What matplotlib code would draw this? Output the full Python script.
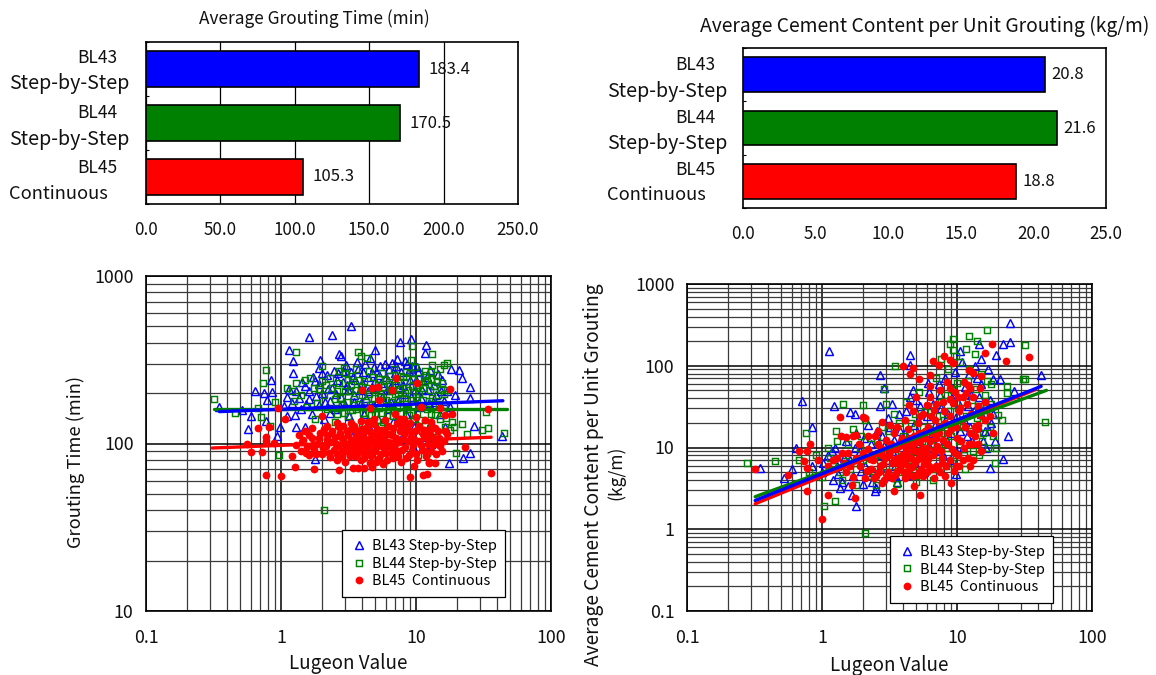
import matplotlib
matplotlib.use('Agg')
import matplotlib.pyplot as plt
from matplotlib.ticker import LogLocator, NullFormatter

plt.rcParams['font.family'] = ['Noto Sans CJK JP', 'DejaVu Sans']

W, H = 1156, 675

methods = ['BL43', 'BL44', 'BL45']
method_names = ['Step-by-Step', 'Step-by-Step', 'Continuous']
avg_time = [183.4, 170.5, 105.3]
avg_cement = [20.8, 21.6, 18.8]
legend_labels = ['BL43 Step-by-Step', 'BL44 Step-by-Step', 'BL45  Continuous']

# (Lugeon, grouting time)
bl43_time = [(3.3,500),(1.6,433),(2.4,442),(1.14,361),(1.22,310),(1.22,264),(1.95,316),(1.9,283),(2.68,344),(2.8,332),
    (5,361),(7.6,403),(9.2,420),(11.9,385),(11.7,345),(7.2,320),(6.6,304),(8.3,312),(9,277),(10.2,287),(18.1,278),(21,273),
    (22,245),(25,216),(25,188),(19.5,194),(16,180),(.85,240),(.64,206),(.75,200),(.86,203),(.79,181),(.35,165),(.51,158),
    (.6,146),(.77,136),(.57,122),(.98,126),(1.29,125),(.94,111),(27,127),(43,111),(25,88),(22.4,82),(17.5,77),(1.78,81),
    (1.1,190),(1.2,175),(1.3,205),(1.4,160),(1.5,220),(1.6,185),(1.7,150),(1.8,235),(1.9,170),(2,200),(2.1,140),(2.2,255),
    (2.3,180),(2.4,215),(2.5,160),(2.6,240),(2.7,130),(2.8,190),(2.9,270),(3,170),(3.1,225),(3.2,145),(3.4,250),(3.5,195),
    (3.6,120),(3.7,280),(3.9,175),(4,230),(4.1,150),(4.2,300),(4.4,205),(4.5,125),(4.7,265),(4.8,170),(5,235),(5.2,140),
    (5.4,290),(5.6,190),(5.8,115),(6,250),(6.2,160),(6.4,215),(6.7,135),(7,265),(7.3,180),(7.6,105),(8,225),(8.4,150),
    (8.8,270),(9.2,190),(9.6,125),(10,240),(10.5,165),(11,210),(11.5,110),(12,250),(12.5,175),(13,135),(13.5,225),(14,195),
    (15,150),(15.5,240),(16.5,125),(17,205),(18,165),(13,100),(9.5,95),(6.3,98),(3.3,105),(2.4,110),(1.5,125),(1.1,145),
    (1.05,168),(1.15,212),(1.28,148),(1.36,186),(1.44,232),(1.52,172),(1.62,205),(1.72,248),(1.82,192),(1.92,228),(2.02,262),
    (2.12,178),(2.22,212),(2.32,152),(2.45,272),(2.55,198),(2.65,262),(2.75,168),(2.88,232),(3.05,295),(3.15,208),(3.28,268),
    (3.45,178),(3.55,238),(3.68,305),(3.85,208),(4.05,268),(4.25,188),(4.38,248),(4.55,322),(4.72,218),(4.92,288),(5.1,178),
    (5.3,258),(5.55,230),(5.85,298),(6.05,208),(6.3,278),(6.55,178),(6.85,238),(7.15,292),(7.45,218),(7.8,268),(8.15,198),
    (8.6,300),(9,238),(9.4,292),(9.85,208),(10.3,268),(10.8,188),(11.3,238),(12.2,208),(12.8,275),(13.8,178),(14.5,260),(15.2,205)]

bl44_time = [(.32,184),(.78,273),(.73,230),(1.3,350),(3.7,350),(9.4,383),(13.2,342),(17,301),(2,291),(2.95,284),(45,116),
    (34,123),(31,120),(33,155),(24,114),(22,131),(19.8,88),(2.09,40),(.97,85),(.46,152),(.67,163),(.71,144),(.83,127),(.9,177),
    (10.3,85),(3.9,335),(4.3,325),(9.2,315),(13.1,295),(13,268),(16,295),(15,280),(11.8,255),(3.6,280),(3,262),(2.7,270),
    (1.1,215),(1.2,205),(1.25,180),(1.3,230),(1.4,195),(1.5,240),(1.55,165),(1.65,245),(1.75,215),(1.85,175),(2,235),(2.1,195),
    (2.2,160),(2.3,245),(2.4,215),(2.5,185),(2.6,150),(2.7,230),(2.85,170),(3,205),(3.15,145),(3.3,225),(3.45,185),(3.6,160),
    (3.8,240),(4,195),(4.2,140),(4.4,215),(4.6,170),(4.8,250),(5,150),(5.2,225),(5.5,190),(5.7,135),(6,240),(6.2,170),(6.5,205),
    (6.8,145),(7.1,225),(7.4,185),(7.7,130),(8,250),(8.3,200),(8.6,160),(9,265),(9.3,220),(9.6,140),(10,190),(10.4,245),(10.8,165),
    (11.2,215),(11.6,130),(12,240),(12.5,180),(13,150),(13.5,220),(14,255),(14.5,195),(15,140),(15.5,230),(16,170),(16.5,125),
    (17,210),(17.5,155),(18,120),(18.5,135),(19,125),(14,110),(11,118),(8,122),(5.5,128),(4,132),(2.5,135),(1.8,140),(12,88),(1.6,92),
    (2.55,162),(2.72,188),(2.92,152),(3.08,178),(3.22,205),(3.38,158),(3.52,208),(3.72,172),(3.92,218),(4.08,152),(4.28,178),(4.48,198),
    (4.68,148),(4.88,188),(5.08,212),(5.28,162),(5.42,198),(5.62,152),(5.82,218),(5.98,182),(6.15,148),(6.35,228),(6.58,178),(6.72,158),
    (6.95,198),(7.25,162),(7.52,212),(7.72,152),(7.92,188),(8.12,232),(8.42,172),(8.72,208),(8.92,148),(9.15,182),(9.45,242),(9.72,168),
    (9.92,218),(10.15,152),(10.55,198),(10.92,138),(11.35,182),(11.72,232),(12.15,160),(12.65,208),(13.25,188),(13.75,148),(14.25,232),
    (14.75,172),(15.25,208),(15.75,152),(16.25,198),(16.75,142),(3.15,240),(4.5,272),(5.6,262),(6.9,278),(7.6,252),(9.8,288),(11.6,272),
    (1.9,212),(2.15,225),(2.6,205),(3.35,252),(4.15,236),(5.35,244),(6.4,252),(8.5,268),(10.6,222),(12.9,242)]

bl45_time = [(34,161),(36,67),(23,95),(17,114),(18,212),(18.5,149),(16.5,147),(15,162),(10.2,230),(7.1,247),(6.6,208),(5.2,218),
    (4.7,214),(4,208),(5.3,181),(4.6,162),(2,146),(1.07,140),(.95,163),(.82,125),(.68,123),(.78,110),(.78,104),(.89,101),(.56,99),
    (.6,89),(.72,89),(1.2,84),(1.27,72),(.78,65),(1,64),(1.76,70),(2.7,69),(3.4,71),(9,63),(11.2,65),(12,66),(13.8,76),(12.5,76),
    (9.6,73),(4.7,72),(4.1,71),(3.7,71),(7,151),(8.2,141),(10,144),(13,135),(11.4,120),(10.9,165),(8.5,125),(1.3,98),(1.35,112),
    (1.4,90),(1.45,105),(1.5,118),(1.55,95),(1.6,85),(1.7,108),(1.75,92),(1.85,100),(1.95,115),(2,87),(2.1,122),(2.15,96),(2.2,105),
    (2.3,83),(2.4,118),(2.45,92),(2.55,100),(2.6,80),(2.7,125),(2.8,110),(2.85,90),(2.95,100),(3,78),(3.1,118),(3.2,95),(3.3,105),
    (3.4,85),(3.5,128),(3.6,112),(3.7,92),(3.8,100),(3.9,80),(4,122),(4.1,106),(4.2,88),(4.35,96),(4.5,118),(4.6,76),(4.7,102),
    (4.9,130),(5,90),(5.1,110),(5.3,82),(5.4,98),(5.6,120),(5.7,75),(5.9,104),(6,88),(6.2,128),(6.4,96),(6.6,112),(6.8,82),(7,100),
    (7.2,132),(7.4,90),(7.6,118),(7.8,78),(8,106),(8.3,95),(8.6,125),(8.9,85),(9.2,110),(9.5,98),(9.9,118),(10.2,80),(10.6,104),(11,92),
    (11.4,112),(11.8,84),(12.2,100),(12.6,122),(13,90),(13.5,108),(14,86),(14.5,118),(15,96),(16,104),(3.3,133),(2.6,132),(4.4,135),(7.6,140),
    (1.42,102),(1.52,88),(1.62,112),(1.72,98),(1.82,86),(1.92,108),(2.05,94),(2.18,112),(2.25,88),(2.35,102),(2.5,110),(2.58,86),(2.65,96),
    (2.75,116),(2.82,84),(2.9,106),(3.02,90),(3.08,100),(3.15,112),(3.22,84),(3.28,122),(3.35,92),(3.45,100),(3.55,84),(3.62,120),(3.68,104),
    (3.75,88),(3.82,110),(3.95,94),(4.05,114),(4.15,82),(4.22,100),(4.32,126),(4.4,90),(4.55,108),(4.65,84),(4.75,116),(4.85,94),(4.95,104),
    (5.05,78),(5.15,122),(5.25,96),(5.35,112),(5.5,86),(5.65,106),(5.8,94),(5.95,116),(6.1,80),(6.25,102),(6.35,114),(6.5,88),(6.7,124),
    (6.9,94),(7.1,108),(7.3,84),(7.5,102),(7.7,126),(7.9,92),(8.1,114),(8.45,82),(8.75,104),(9,118),(9.35,90),(9.7,106),(10,86),(10.4,124),
    (10.8,98),(11.2,114),(11.6,90),(12,108),(12.4,78),(12.8,114),(13.2,98),(13.8,124),(14.2,100),(14.8,108),(15.5,90),(16.5,118),(8,130),
    (9,132),(10.5,128),(11.6,138),(5.9,138),(4.9,140),(3.9,136),(2.9,128),(2.2,128),(1.7,124)]

# (Lugeon, cement content)
bl43_cement = [(24.7,332),(1.12,150),(4.5,136),(4.5,101),(2.7,78),(10.6,150),(14.6,184),(22,184),(24.7,196),(19.5,136),(15,120),(42,78),
    (20.9,68),(18.4,68),(26.6,49),(.71,37),(1.23,32),(1.6,27),(1.76,26),(.84,18),(.64,10),(.6,5.5),(.52,4.2),(.35,5.6),(24,14),(22,7.3),
    (17.6,5.6),(9.9,4.7),(1.8,1.9),(2.47,2.9),(1.66,2.6),(1.37,3.2),(2.7,32),(3.3,34),(2.9,53),(4.7,51),(.85,6),(1,5),(1.1,8),(1.2,4),
    (1.25,10),(1.3,6),(1.4,3.8),(1.5,12),(1.6,7),(1.7,4.5),(1.8,15),(1.9,9),(2,3.6),(2.1,6),(2.2,19),(2.3,11),(2.4,5),(2.5,3.2),(2.6,8),
    (2.8,14),(3,4.5),(3.1,23),(3.3,9),(3.5,6),(3.6,3.8),(3.8,16),(4,11),(4.2,28),(4.4,7),(4.6,4.6),(4.8,19),(5,38),(5.2,12),(5.5,8),
    (5.7,5),(6,24),(6.2,48),(6.5,15),(6.8,9),(7,6),(7.3,60),(7.6,30),(8,20),(8.4,12),(8.8,7),(9.2,40),(9.6,85),(10,25),(10.5,16),(11,10),
    (11.5,55),(12,32),(12.5,18),(13,12),(13.5,100),(14,70),(14.5,42),(15,26),(16,16),(16.5,10),(17,90),(17.5,38),(18,20),(19,12),
    (1.02,6.5),(1.18,9),(1.32,4.8),(1.45,7.5),(1.55,3.4),(1.75,10),(1.95,5.2),(2.05,13),(2.25,7.8),(2.35,3.8),(2.55,16),(2.7,5.8),(2.9,10.5),
    (3.05,7),(3.2,18),(3.4,12.5),(3.55,4.4),(3.7,26),(3.9,8),(4.1,15),(4.3,5.5),(4.5,42),(4.7,10),(4.9,6.5),(5.1,22),(5.35,32),(5.6,14),(5.85,7),
    (6.1,62),(6.3,10),(6.6,34),(6.9,19),(7.2,12),(7.5,44),(7.9,8),(8.2,70),(8.6,26),(9,15),(9.4,54),(9.8,9),(10.2,36),(10.8,110),(11.3,22),
    (11.8,14),(12.3,80),(12.8,44),(13.3,28),(14.2,18),(15,60),(15.5,12),(16.2,32),(17.2,16),(18.5,26)]

bl44_cement = [(2.08,.9),(45,20.6),(32,180),(16.6,275),(8.8,185),(9.3,154),(3.5,100),(31,69),(32,69),(23.4,57),(23.4,47),(21.4,22),(19.4,10),
    (1.25,2.2),(1.03,1.9),(.45,6.8),(.76,15),(1.27,16),(1.42,33.8),(2,33),(3,33.6),(2.9,52.5),(.28,6.5),(.68,7),(.8,5),(.9,8),(1,4.4),
    (1.1,10),(1.2,6),(1.3,12),(1.4,4),(1.5,8),(1.6,5.5),(1.7,17),(1.8,3.5),(1.9,10),(2,7),(2.1,22),(2.2,4.5),(2.3,13),(2.5,3.5),(2.6,8),
    (2.8,18),(3,5),(3.2,11),(3.4,26),(3.6,3.6),(3.8,7),(4,14),(4.2,36),(4.4,5),(4.6,20),(4.8,9),(5,3.8),(5.2,48),(5.5,12),(5.8,28),(6,6.5),
    (6.3,17),(6.6,4),(7,70),(7.3,10),(7.6,36),(8,22),(8.3,6),(8.6,90),(9,14),(9.4,50),(9.8,8),(10.2,30),(10.6,110),(11,18),(11.4,5.5),
    (12,65),(12.5,11),(13,38),(13.5,140),(14,23),(14.5,8),(15,80),(15.5,15),(16,44),(16.5,30),(17,10),(17.5,18),(18,60),(20,25),(19,6.5),
    (1.15,7.5),(1.35,5),(1.55,11),(1.75,6.5),(1.95,14),(2.15,8.5),(2.35,5.2),(2.55,12),(2.7,7),(2.95,9),(3.1,16),(3.3,6),(3.5,8.2),(3.7,20),
    (3.9,5),(4.05,11),(4.25,7.5),(4.5,15),(4.7,6),(4.9,26),(5.1,9),(5.3,4.6),(5.6,18),(5.9,7.5),(6.15,32),(6.45,11),(6.75,5.5),(7.1,24),(7.4,8),
    (7.8,15),(8.1,44),(8.5,10),(8.8,28),(9.2,6.5),(9.6,19),(10,62),(10.4,12),(10.8,36),(11.2,8),(11.7,24),(12.2,90),(12.7,16),(13.2,9),(13.8,52),
    (14.2,32),(15.2,12),(15.8,24),(16.8,66),(17.8,34),(18.5,14),(7.6,120),(9.9,130),(11.6,160),(14,200),(12.3,230),(9.3,210)]

bl45_cement = [(18.3,184),(34,127),(23,113),(16.2,145),(8,132),(6.6,113),(7.3,103),(8.9,116),(9.3,108),(4,100),(4.7,94),(4.5,80),(6.3,78),
    (5.2,69),(12.3,89),(13.2,81),(15,74),(11.3,64),(6.3,56),(7.5,51),(5,42),(6.3,42),(8.9,53),(12.5,53),(14.8,53),(8.9,39),(10.2,42),(13.2,42),
    (16,36),(10.5,30),(4.4,33),(4.7,28),(5.6,26),(6.7,29),(14.4,32),(17.6,24),(16.1,21.6),(14.4,19),(18.6,15),(13.6,14),(12.5,5.9),(9.1,3.7),
    (9.9,6),(5.3,2.6),(3.4,2.9),(4.8,3.4),(1.76,2.4),(1.1,2.6),(.77,2.9),(1,1.35),(.56,4.6),(.77,5.6),(.73,6.8),(.68,9),(.82,10.9),(.77,9),
    (.94,7.1),(1.37,23.4),(2,23.6),(2.1,22.7),(2.77,20.4),(1.38,14),(1.5,13.5),(1.8,14.4),(1.7,13.7),(2.2,14),(2.47,14),(1.87,11),(1.4,8.6),
    (1.11,5.9),(1.2,7.1),(1.66,3.5),(2.77,3.7),(.32,5.5),(1.3,7.5),(1.5,5),(1.7,4.4),(1.9,6),(2,8.5),(2.1,4.2),(2.2,9.5),(2.3,5.5),(2.4,7),
    (2.5,4.5),(2.6,11),(2.7,6),(2.8,8),(2.9,4),(3,12.5),(3.1,5),(3.2,9),(3.3,6.5),(3.4,15),(3.5,4.6),(3.6,7.5),(3.7,10.5),(3.8,5.5),(3.9,13),
    (4,7),(4.1,4.2),(4.2,9),(4.3,17),(4.4,5.5),(4.5,11),(4.6,7.5),(4.7,4.5),(4.8,14),(4.9,6.5),(5,9),(5.1,20),(5.2,5),(5.3,12),(5.5,7.5),(5.6,4.5),
    (5.8,16),(6,10),(6.2,6),(6.4,24),(6.6,8),(6.8,4.2),(7,13),(7.2,5.5),(7.4,18),(7.6,9),(7.8,6.5),(8,28),(8.2,4.5),(8.5,11),(8.8,7),(9,17),
    (9.3,35),(9.6,8.5),(10,13),(10.4,6),(10.8,22),(11.2,10),(11.6,46),(12,7.5),(12.4,15),(13,11),(14,17),(15,9),
    (2.15,5.2),(2.25,7.2),(2.42,4.2),(2.55,8.5),(2.65,5),(2.75,9.8),(2.85,6.2),(2.95,7.5),(3.05,4.5),(3.12,8),(3.22,11),(3.32,4.2),(3.42,7),(3.52,9.5),
    (3.62,5.2),(3.72,6.2),(3.82,12),(3.92,8.2),(4.02,5),(4.12,10.5),(4.22,6.2),(4.32,7.8),(4.42,4.6),(4.52,13),(4.62,5.8),(4.72,9.2),(4.82,6.8),(4.92,11.2),
    (5.02,4.6),(5.12,7.2),(5.22,15),(5.32,8.2),(5.42,5.4),(5.55,10),(5.65,6.2),(5.75,13),(5.85,8.8),(5.95,5),(6.05,18),(6.15,7.2),(6.3,12),(6.45,5.4),(6.55,15),
    (6.7,9),(6.85,22),(6.95,6),(7.1,10.5),(7.3,15),(7.5,5),(7.7,7.5),(7.9,12.5),(8.1,20),(8.3,6),(8.6,15),(8.9,24),(9.2,9.5),(9.5,5.2),(9.8,18),(10.1,8),
    (10.3,28),(10.7,12),(11,7),(11.4,18),(11.8,34),(12.2,11),(12.7,26),(13.2,7),(13.7,18),(14.2,11),(14.7,25),(11,42),(12,58),(9.7,48),(8.4,64),(7.9,36),
    (7,34),(6,33),(5.3,24),(4.1,22),(3.6,18),(3.2,19),(2.6,16),(1.55,8.5),(1.6,6),(1.8,7.5),(1.45,6.5)]

# two end points of each fitted line
fit_lugeon_time = {'green': ([.32, 47], [160, 160]), 'blue': ([.35, 44], [155, 180]), 'red': ([.31, 36], [94, 109])}
fit_lugeon_cement = {'red': ([.32, 38], [2.05, 51]), 'green': ([.32, 46], [2.5, 50]), 'blue': ([.32, 42], [2.25, 56])}

BLUE, GREEN, RED = '#0000ff', '#008000', '#ff0000'


def px_axes(fig, left, top, right, bottom):
    return fig.add_axes([left / W, 1 - bottom / H, (right - left) / W, (bottom - top) / H])


def px_text(fig, x, y, s, **kw):
    kw.setdefault('fontsize', 12.5)
    kw.setdefault('va', 'center')
    kw.setdefault('color', '#111111')
    return fig.text(x / W, 1 - y / H, s, **kw)


def bar_panel(ax, values, xmax, step, grid, label_offset):
    ypos = range(len(values))
    ax.barh(list(ypos), values, height=0.65, color=[BLUE, GREEN, RED], edgecolor='black', linewidth=1.2, zorder=3)
    ax.set_xlim(0, xmax)
    ax.set_ylim(2.5, -0.5)
    ticks = [step * i for i in range(int(xmax / step) + 1)]
    ax.set_xticks(ticks)
    ax.set_xticklabels(['%.1f' % t for t in ticks], fontsize=12.2, color='#111111')
    ax.set_yticks([-0.5, 0, 0.5, 1, 1.5, 2, 2.5])
    ax.set_yticklabels([])
    ax.tick_params(axis='y', direction='in', length=2, width=0.8)
    ax.tick_params(axis='x', length=0, pad=12)
    if grid:
        ax.grid(axis='x', color='black', linewidth=0.9, zorder=0)
    for s in ax.spines.values():
        s.set_linewidth(1.2)
    for i, v in enumerate(values):
        ax.annotate('%.1f' % v, (v, i), xytext=(label_offset, 0), textcoords='offset points', va='center', fontsize=12,
                    color='#111111', zorder=5, annotation_clip=False)


def scatter_panel(ax, blue, green, red, fits, ymin, ymax, lines_on_top, legend_anchor):
    ax.set_xscale('log')
    ax.set_yscale('log')
    ax.set_xlim(0.1, 100)
    ax.set_ylim(ymin, ymax)
    for axis in (ax.xaxis, ax.yaxis):
        axis.set_major_locator(LogLocator(10, numticks=6))
        axis.set_minor_locator(LogLocator(10, subs=range(2, 10), numticks=6))
        axis.set_minor_formatter(NullFormatter())
        axis.set_major_formatter(lambda v, p: '%g' % v)
    ax.tick_params(which='both', length=0)
    ax.tick_params(axis='x', pad=13, labelsize=12.8, labelcolor='#111111')
    ax.tick_params(axis='y', pad=9, labelsize=12.8, labelcolor='#111111')
    ax.grid(which='major', color='black', linewidth=1.1, zorder=0)
    ax.grid(which='minor', color='#3a3a3a', linewidth=0.9, zorder=0)
    ax.set_axisbelow(True)

    h1, = ax.plot(*zip(*blue), '^', ms=5.8, mfc='none', mec=BLUE, mew=1.05, zorder=3)
    h2, = ax.plot(*zip(*green), 's', ms=4.6, mfc='none', mec=GREEN, mew=1.05, zorder=4)
    h3, = ax.plot(*zip(*red), 'o', ms=5.6, mfc=RED, mec=RED, mew=0, zorder=6)

    z_fit = 7 if lines_on_top else 5
    for col, (fx, fy) in fits.items():
        ax.plot(fx, fy, '-', color={'blue': BLUE, 'green': GREEN, 'red': RED}[col], lw=2.4, zorder=z_fit, solid_capstyle='round')

    leg = ax.legend([h1, h2, h3], legend_labels, loc='lower left', bbox_to_anchor=legend_anchor, fontsize=10.4,
                    frameon=True, fancybox=False, framealpha=1, edgecolor='black', facecolor='white',
                    borderpad=0.6, labelspacing=0.25, handletextpad=0.35, handlelength=1.1, borderaxespad=0)
    leg.get_frame().set_linewidth(0.9)
    leg.set_zorder(10)
    for s in ax.spines.values():
        s.set_linewidth(1.2)


fig = plt.figure(figsize=(W / 100, H / 100), dpi=100)

ax1 = px_axes(fig, 146, 42, 518, 204)
bar_panel(ax1, avg_time, 250, 50, True, 7)
ax2 = px_axes(fig, 743, 48, 1106, 208)
bar_panel(ax2, avg_cement, 25, 5, False, 4.5)

px_text(fig, 314, 19, 'Average Grouting Time (min)', ha='center', fontsize=12.4)
px_text(fig, 925, 26, 'Average Cement Content per Unit Grouting (kg/m)', ha='center', fontsize=13.9)

for left_x, mid_x, rows in ((9, 97, [(58, 83), (113, 139), (168, 194)]), (607, 695, [(65, 91), (118, 143), (170, 195)])):
    for m, name, (y1, y2) in zip(methods, method_names, rows):
        px_text(fig, mid_x, y1, m, ha='center')
        px_text(fig, left_x, y2, name, ha='left', fontsize=14.2 if 'Step' in name else 13.2)

ax3 = px_axes(fig, 146, 276, 551, 611)
scatter_panel(ax3, bl43_time, bl44_time, bl45_time, fit_lugeon_time, 10, 1000, False, (0.484, 0.042))
ax4 = px_axes(fig, 687, 284, 1092, 611)
scatter_panel(ax4, bl43_cement, bl44_cement, bl45_cement, fit_lugeon_cement, 0.1, 1000, True, (0.501, 0.025))

px_text(fig, 348, 664, 'Lugeon Value', ha='center', fontsize=13.5)
px_text(fig, 889, 666, 'Lugeon Value', ha='center', fontsize=13.5)
px_text(fig, 76, 462, 'Grouting Time (min)', ha='center', rotation=90, fontsize=13.2)
px_text(fig, 594, 475, 'Average Cement Content per Unit Grouting', ha='center', rotation=90, fontsize=13.8)
px_text(fig, 616, 473, '(kg/m)', ha='center', rotation=90, fontsize=12.5)

fig.savefig('out.png', dpi=100)
